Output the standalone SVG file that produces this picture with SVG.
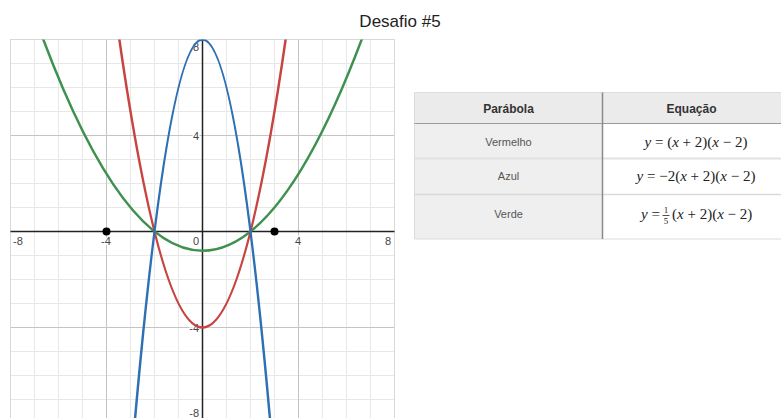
<svg xmlns="http://www.w3.org/2000/svg" width="781" height="418" viewBox="0 0 781 418">
<style>
.minor{stroke:#e8e8e8;stroke-width:1}
.major{stroke:#c4c4c4;stroke-width:1}
.axis{stroke:#222;stroke-width:1.5}
.lbl{font-family:"Liberation Sans",Arial,sans-serif;font-size:11px;fill:#444;stroke:#fff;stroke-width:3px;paint-order:stroke;stroke-linejoin:round}
.curve{fill:none;stroke-width:2.5;stroke-linecap:round}
.hdr{font-family:"Liberation Sans",Arial,sans-serif;font-size:12px;font-weight:bold;fill:#333;text-anchor:middle}
.cell{font-family:"Liberation Sans",Arial,sans-serif;font-size:11px;fill:#555;text-anchor:middle}
.math{font-family:"Liberation Serif","Times New Roman",serif;font-size:15px;fill:#222}
.it{font-style:italic}
.frac{font-family:"Liberation Serif","Times New Roman",serif;font-size:9px;fill:#222;text-anchor:middle}
</style>
<defs>
<clipPath id="plot"><rect x="10.5" y="39.5" width="384" height="380"/></clipPath>
</defs>
<rect width="781" height="418" fill="#fff"/>
<text x="400" y="27" font-family="Liberation Sans,Arial,sans-serif" font-size="17" fill="#222" text-anchor="middle">Desafio #5</text>

<g id="graph">
<g id="grid">
<path class="minor" d="M34.5 39.5V418M58.5 39.5V418M82.5 39.5V418M130.5 39.5V418M154.5 39.5V418M178.5 39.5V418M226.5 39.5V418M250.5 39.5V418M274.5 39.5V418M322.5 39.5V418M346.5 39.5V418M370.5 39.5V418
M10.5 63.5H394.5M10.5 87.5H394.5M10.5 111.5H394.5M10.5 159.5H394.5M10.5 183.5H394.5M10.5 207.5H394.5M10.5 255.5H394.5M10.5 279.5H394.5M10.5 303.5H394.5M10.5 351.5H394.5M10.5 375.5H394.5M10.5 399.5H394.5"/>
<path class="major" d="M106.5 39.5V418M298.5 39.5V418M10.5 135.5H394.5M10.5 327.5H394.5"/>
<rect x="10.5" y="39.5" width="384" height="385" fill="none" stroke="#d8d8d8" stroke-width="1"/>
</g>
<g id="axes">
<path class="axis" d="M202.5 39.5V418M10.5 231.5H394.5"/>
<text class="lbl" x="18" y="245" text-anchor="middle">-8</text>
<text class="lbl" x="106" y="245" text-anchor="middle">-4</text>
<text class="lbl" x="196" y="245" text-anchor="middle">0</text>
<text class="lbl" x="298" y="245" text-anchor="middle">4</text>
<text class="lbl" x="388" y="245" text-anchor="middle">8</text>
<text class="lbl" x="199" y="51" text-anchor="end">8</text>
<text class="lbl" x="199" y="139.5" text-anchor="end">4</text>
<text class="lbl" x="199" y="331.5" text-anchor="end">-4</text>
<text class="lbl" x="199" y="417" text-anchor="end">-8</text>
</g>
<g id="curves" clip-path="url(#plot)">
<path id="verde" class="curve" stroke="#3f9150" d="M34.5 15.5Q202.5 485.9 370.5 15.5"/>
<path id="vermelho" class="curve" stroke="#c74440" d="M116.1 16.46Q202.5 638.54 288.9 16.46"/>
<path id="azul" class="curve" stroke="#2d70b3" d="M130.5 471.5Q202.5 -392.5 274.5 471.5"/>
</g>
<g id="points">
<circle cx="106.5" cy="231.5" r="4" fill="#000"/>
<circle cx="274.5" cy="231.5" r="4" fill="#000"/>
</g>
</g>

<g id="table">
<rect x="414.5" y="92.5" width="367" height="31" fill="#ebebeb"/>
<rect x="414.5" y="123.5" width="188" height="115.5" fill="#efefef"/>
<path d="M414.5 92.5H781M414.5 92.5V239M414.5 239H781" fill="none" stroke="#dcdcdc" stroke-width="1"/>
<path d="M414.5 123.5H781" stroke="#9a9a9a" stroke-width="1"/>
<path d="M414.5 158.5H781" stroke="#e2e2e2" stroke-width="2"/>
<path d="M414.5 194.5H781" stroke="#dadada" stroke-width="1.5"/>
<path d="M602.5 92.5V239" stroke="#8a8a8a" stroke-width="1.5"/>
<g id="header">
<text class="hdr" x="508.5" y="113">Parábola</text>
<text class="hdr" x="691.5" y="113">Equação</text>
</g>
<g id="row-vermelho">
<text class="cell" x="508.5" y="146">Vermelho</text>
<text class="math" x="696" y="147" text-anchor="middle"><tspan class="it">y</tspan> = (<tspan class="it">x</tspan> + 2)(<tspan class="it">x</tspan> − 2)</text>
</g>
<g id="row-azul">
<text class="cell" x="508.5" y="180">Azul</text>
<text class="math" x="696" y="181" text-anchor="middle"><tspan class="it">y</tspan> = −2(<tspan class="it">x</tspan> + 2)(<tspan class="it">x</tspan> − 2)</text>
</g>
<g id="row-verde">
<text class="cell" x="508.5" y="218">Verde</text>
<text class="math" x="641" y="219"><tspan class="it">y</tspan> =</text>
<text class="frac" x="666" y="213">1</text>
<path d="M662.5 215.5H669.5" stroke="#222" stroke-width="0.8"/>
<text class="frac" x="666" y="224">5</text>
<text class="math" x="672" y="219">(<tspan class="it">x</tspan> + 2)(<tspan class="it">x</tspan> − 2)</text>
</g>
</g>
</svg>
